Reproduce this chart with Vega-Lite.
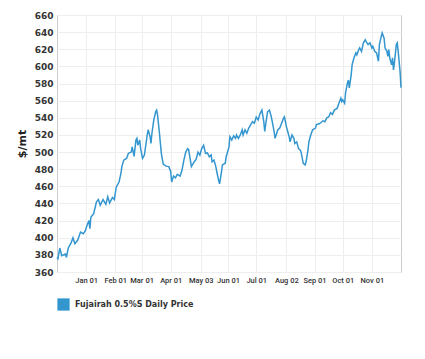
{
  "$schema": "https://vega.github.io/schema/vega-lite/v6.json",
  "autosize": {"type": "none"},
  "padding": {"left": 57, "top": 15, "right": 24, "bottom": 87},
  "width": 344,
  "height": 257,
  "background": "white",
  "config": {
    "view": {"stroke": "#cccccc", "strokeWidth": 1},
    "font": "DejaVu Sans"
  },
  "data": {
    "values": [
      {"date": "2020-12-01", "price": 377, "series": "Fujairah 0.5%S Daily Price"},
      {"date": "2020-12-02", "price": 375.5, "series": "Fujairah 0.5%S Daily Price"},
      {"date": "2020-12-04", "price": 388, "series": "Fujairah 0.5%S Daily Price"},
      {"date": "2020-12-06", "price": 379, "series": "Fujairah 0.5%S Daily Price"},
      {"date": "2020-12-10", "price": 381, "series": "Fujairah 0.5%S Daily Price"},
      {"date": "2020-12-11", "price": 377, "series": "Fujairah 0.5%S Daily Price"},
      {"date": "2020-12-13", "price": 388, "series": "Fujairah 0.5%S Daily Price"},
      {"date": "2020-12-16", "price": 394, "series": "Fujairah 0.5%S Daily Price"},
      {"date": "2020-12-18", "price": 400, "series": "Fujairah 0.5%S Daily Price"},
      {"date": "2020-12-20", "price": 393, "series": "Fujairah 0.5%S Daily Price"},
      {"date": "2020-12-23", "price": 397, "series": "Fujairah 0.5%S Daily Price"},
      {"date": "2020-12-26", "price": 406.6, "series": "Fujairah 0.5%S Daily Price"},
      {"date": "2020-12-29", "price": 404.7, "series": "Fujairah 0.5%S Daily Price"},
      {"date": "2020-12-31", "price": 408, "series": "Fujairah 0.5%S Daily Price"},
      {"date": "2021-01-02", "price": 414.5, "series": "Fujairah 0.5%S Daily Price"},
      {"date": "2021-01-04", "price": 420, "series": "Fujairah 0.5%S Daily Price"},
      {"date": "2021-01-05", "price": 410.6, "series": "Fujairah 0.5%S Daily Price"},
      {"date": "2021-01-06", "price": 424, "series": "Fujairah 0.5%S Daily Price"},
      {"date": "2021-01-09", "price": 428, "series": "Fujairah 0.5%S Daily Price"},
      {"date": "2021-01-12", "price": 442, "series": "Fujairah 0.5%S Daily Price"},
      {"date": "2021-01-14", "price": 444.6, "series": "Fujairah 0.5%S Daily Price"},
      {"date": "2021-01-16", "price": 438, "series": "Fujairah 0.5%S Daily Price"},
      {"date": "2021-01-19", "price": 444.6, "series": "Fujairah 0.5%S Daily Price"},
      {"date": "2021-01-22", "price": 439, "series": "Fujairah 0.5%S Daily Price"},
      {"date": "2021-01-24", "price": 447.7, "series": "Fujairah 0.5%S Daily Price"},
      {"date": "2021-01-26", "price": 440.6, "series": "Fujairah 0.5%S Daily Price"},
      {"date": "2021-01-29", "price": 447, "series": "Fujairah 0.5%S Daily Price"},
      {"date": "2021-01-31", "price": 444.6, "series": "Fujairah 0.5%S Daily Price"},
      {"date": "2021-02-02", "price": 459, "series": "Fujairah 0.5%S Daily Price"},
      {"date": "2021-02-05", "price": 465, "series": "Fujairah 0.5%S Daily Price"},
      {"date": "2021-02-07", "price": 475, "series": "Fujairah 0.5%S Daily Price"},
      {"date": "2021-02-08", "price": 483, "series": "Fujairah 0.5%S Daily Price"},
      {"date": "2021-02-10", "price": 490.6, "series": "Fujairah 0.5%S Daily Price"},
      {"date": "2021-02-13", "price": 492.6, "series": "Fujairah 0.5%S Daily Price"},
      {"date": "2021-02-15", "price": 498.5, "series": "Fujairah 0.5%S Daily Price"},
      {"date": "2021-02-18", "price": 500, "series": "Fujairah 0.5%S Daily Price"},
      {"date": "2021-02-19", "price": 506, "series": "Fujairah 0.5%S Daily Price"},
      {"date": "2021-02-21", "price": 495, "series": "Fujairah 0.5%S Daily Price"},
      {"date": "2021-02-23", "price": 514, "series": "Fujairah 0.5%S Daily Price"},
      {"date": "2021-02-24", "price": 516, "series": "Fujairah 0.5%S Daily Price"},
      {"date": "2021-02-25", "price": 508, "series": "Fujairah 0.5%S Daily Price"},
      {"date": "2021-02-27", "price": 514, "series": "Fujairah 0.5%S Daily Price"},
      {"date": "2021-02-28", "price": 504, "series": "Fujairah 0.5%S Daily Price"},
      {"date": "2021-03-02", "price": 492.6, "series": "Fujairah 0.5%S Daily Price"},
      {"date": "2021-03-04", "price": 496.5, "series": "Fujairah 0.5%S Daily Price"},
      {"date": "2021-03-07", "price": 520, "series": "Fujairah 0.5%S Daily Price"},
      {"date": "2021-03-08", "price": 526, "series": "Fujairah 0.5%S Daily Price"},
      {"date": "2021-03-10", "price": 518, "series": "Fujairah 0.5%S Daily Price"},
      {"date": "2021-03-11", "price": 510, "series": "Fujairah 0.5%S Daily Price"},
      {"date": "2021-03-12", "price": 522, "series": "Fujairah 0.5%S Daily Price"},
      {"date": "2021-03-14", "price": 537.5, "series": "Fujairah 0.5%S Daily Price"},
      {"date": "2021-03-16", "price": 547, "series": "Fujairah 0.5%S Daily Price"},
      {"date": "2021-03-17", "price": 549, "series": "Fujairah 0.5%S Daily Price"},
      {"date": "2021-03-18", "price": 543, "series": "Fujairah 0.5%S Daily Price"},
      {"date": "2021-03-20", "price": 522, "series": "Fujairah 0.5%S Daily Price"},
      {"date": "2021-03-22", "price": 498.5, "series": "Fujairah 0.5%S Daily Price"},
      {"date": "2021-03-24", "price": 486, "series": "Fujairah 0.5%S Daily Price"},
      {"date": "2021-03-27", "price": 483.6, "series": "Fujairah 0.5%S Daily Price"},
      {"date": "2021-03-30", "price": 483, "series": "Fujairah 0.5%S Daily Price"},
      {"date": "2021-04-01", "price": 477, "series": "Fujairah 0.5%S Daily Price"},
      {"date": "2021-04-02", "price": 465, "series": "Fujairah 0.5%S Daily Price"},
      {"date": "2021-04-04", "price": 472, "series": "Fujairah 0.5%S Daily Price"},
      {"date": "2021-04-06", "price": 470, "series": "Fujairah 0.5%S Daily Price"},
      {"date": "2021-04-08", "price": 474, "series": "Fujairah 0.5%S Daily Price"},
      {"date": "2021-04-11", "price": 472, "series": "Fujairah 0.5%S Daily Price"},
      {"date": "2021-04-13", "price": 479, "series": "Fujairah 0.5%S Daily Price"},
      {"date": "2021-04-15", "price": 490.6, "series": "Fujairah 0.5%S Daily Price"},
      {"date": "2021-04-17", "price": 500, "series": "Fujairah 0.5%S Daily Price"},
      {"date": "2021-04-19", "price": 504, "series": "Fujairah 0.5%S Daily Price"},
      {"date": "2021-04-20", "price": 503, "series": "Fujairah 0.5%S Daily Price"},
      {"date": "2021-04-21", "price": 496.5, "series": "Fujairah 0.5%S Daily Price"},
      {"date": "2021-04-23", "price": 483, "series": "Fujairah 0.5%S Daily Price"},
      {"date": "2021-04-26", "price": 488.7, "series": "Fujairah 0.5%S Daily Price"},
      {"date": "2021-04-28", "price": 491.5, "series": "Fujairah 0.5%S Daily Price"},
      {"date": "2021-04-30", "price": 500, "series": "Fujairah 0.5%S Daily Price"},
      {"date": "2021-05-02", "price": 496.5, "series": "Fujairah 0.5%S Daily Price"},
      {"date": "2021-05-04", "price": 504, "series": "Fujairah 0.5%S Daily Price"},
      {"date": "2021-05-06", "price": 508, "series": "Fujairah 0.5%S Daily Price"},
      {"date": "2021-05-08", "price": 498.5, "series": "Fujairah 0.5%S Daily Price"},
      {"date": "2021-05-10", "price": 499, "series": "Fujairah 0.5%S Daily Price"},
      {"date": "2021-05-12", "price": 494.5, "series": "Fujairah 0.5%S Daily Price"},
      {"date": "2021-05-14", "price": 496.5, "series": "Fujairah 0.5%S Daily Price"},
      {"date": "2021-05-15", "price": 488.7, "series": "Fujairah 0.5%S Daily Price"},
      {"date": "2021-05-17", "price": 490.6, "series": "Fujairah 0.5%S Daily Price"},
      {"date": "2021-05-19", "price": 483, "series": "Fujairah 0.5%S Daily Price"},
      {"date": "2021-05-20", "price": 477, "series": "Fujairah 0.5%S Daily Price"},
      {"date": "2021-05-22", "price": 467, "series": "Fujairah 0.5%S Daily Price"},
      {"date": "2021-05-23", "price": 463, "series": "Fujairah 0.5%S Daily Price"},
      {"date": "2021-05-25", "price": 477, "series": "Fujairah 0.5%S Daily Price"},
      {"date": "2021-05-26", "price": 485, "series": "Fujairah 0.5%S Daily Price"},
      {"date": "2021-05-29", "price": 487, "series": "Fujairah 0.5%S Daily Price"},
      {"date": "2021-05-30", "price": 494.5, "series": "Fujairah 0.5%S Daily Price"},
      {"date": "2021-06-02", "price": 506, "series": "Fujairah 0.5%S Daily Price"},
      {"date": "2021-06-03", "price": 518, "series": "Fujairah 0.5%S Daily Price"},
      {"date": "2021-06-05", "price": 514, "series": "Fujairah 0.5%S Daily Price"},
      {"date": "2021-06-07", "price": 519, "series": "Fujairah 0.5%S Daily Price"},
      {"date": "2021-06-09", "price": 516, "series": "Fujairah 0.5%S Daily Price"},
      {"date": "2021-06-10", "price": 520, "series": "Fujairah 0.5%S Daily Price"},
      {"date": "2021-06-12", "price": 516, "series": "Fujairah 0.5%S Daily Price"},
      {"date": "2021-06-14", "price": 520, "series": "Fujairah 0.5%S Daily Price"},
      {"date": "2021-06-16", "price": 526, "series": "Fujairah 0.5%S Daily Price"},
      {"date": "2021-06-17", "price": 520, "series": "Fujairah 0.5%S Daily Price"},
      {"date": "2021-06-19", "price": 526, "series": "Fujairah 0.5%S Daily Price"},
      {"date": "2021-06-21", "price": 522, "series": "Fujairah 0.5%S Daily Price"},
      {"date": "2021-06-23", "price": 528, "series": "Fujairah 0.5%S Daily Price"},
      {"date": "2021-06-27", "price": 535.5, "series": "Fujairah 0.5%S Daily Price"},
      {"date": "2021-06-29", "price": 533.7, "series": "Fujairah 0.5%S Daily Price"},
      {"date": "2021-07-01", "price": 541, "series": "Fujairah 0.5%S Daily Price"},
      {"date": "2021-07-03", "price": 537.5, "series": "Fujairah 0.5%S Daily Price"},
      {"date": "2021-07-05", "price": 545, "series": "Fujairah 0.5%S Daily Price"},
      {"date": "2021-07-07", "price": 549, "series": "Fujairah 0.5%S Daily Price"},
      {"date": "2021-07-09", "price": 535.5, "series": "Fujairah 0.5%S Daily Price"},
      {"date": "2021-07-10", "price": 524, "series": "Fujairah 0.5%S Daily Price"},
      {"date": "2021-07-12", "price": 539.5, "series": "Fujairah 0.5%S Daily Price"},
      {"date": "2021-07-13", "price": 547, "series": "Fujairah 0.5%S Daily Price"},
      {"date": "2021-07-15", "price": 549, "series": "Fujairah 0.5%S Daily Price"},
      {"date": "2021-07-17", "price": 541, "series": "Fujairah 0.5%S Daily Price"},
      {"date": "2021-07-19", "price": 530, "series": "Fujairah 0.5%S Daily Price"},
      {"date": "2021-07-20", "price": 524, "series": "Fujairah 0.5%S Daily Price"},
      {"date": "2021-07-21", "price": 516, "series": "Fujairah 0.5%S Daily Price"},
      {"date": "2021-07-24", "price": 526, "series": "Fujairah 0.5%S Daily Price"},
      {"date": "2021-07-26", "price": 528, "series": "Fujairah 0.5%S Daily Price"},
      {"date": "2021-07-28", "price": 533.7, "series": "Fujairah 0.5%S Daily Price"},
      {"date": "2021-07-30", "price": 539.5, "series": "Fujairah 0.5%S Daily Price"},
      {"date": "2021-07-31", "price": 541, "series": "Fujairah 0.5%S Daily Price"},
      {"date": "2021-08-02", "price": 530, "series": "Fujairah 0.5%S Daily Price"},
      {"date": "2021-08-04", "price": 522, "series": "Fujairah 0.5%S Daily Price"},
      {"date": "2021-08-05", "price": 518, "series": "Fujairah 0.5%S Daily Price"},
      {"date": "2021-08-06", "price": 512, "series": "Fujairah 0.5%S Daily Price"},
      {"date": "2021-08-08", "price": 520, "series": "Fujairah 0.5%S Daily Price"},
      {"date": "2021-08-10", "price": 516, "series": "Fujairah 0.5%S Daily Price"},
      {"date": "2021-08-11", "price": 510, "series": "Fujairah 0.5%S Daily Price"},
      {"date": "2021-08-13", "price": 512, "series": "Fujairah 0.5%S Daily Price"},
      {"date": "2021-08-15", "price": 504, "series": "Fujairah 0.5%S Daily Price"},
      {"date": "2021-08-17", "price": 502, "series": "Fujairah 0.5%S Daily Price"},
      {"date": "2021-08-18", "price": 498.5, "series": "Fujairah 0.5%S Daily Price"},
      {"date": "2021-08-20", "price": 486.8, "series": "Fujairah 0.5%S Daily Price"},
      {"date": "2021-08-22", "price": 485, "series": "Fujairah 0.5%S Daily Price"},
      {"date": "2021-08-23", "price": 488.7, "series": "Fujairah 0.5%S Daily Price"},
      {"date": "2021-08-25", "price": 502, "series": "Fujairah 0.5%S Daily Price"},
      {"date": "2021-08-26", "price": 512, "series": "Fujairah 0.5%S Daily Price"},
      {"date": "2021-08-28", "price": 520, "series": "Fujairah 0.5%S Daily Price"},
      {"date": "2021-08-30", "price": 526, "series": "Fujairah 0.5%S Daily Price"},
      {"date": "2021-09-02", "price": 528, "series": "Fujairah 0.5%S Daily Price"},
      {"date": "2021-09-03", "price": 532, "series": "Fujairah 0.5%S Daily Price"},
      {"date": "2021-09-06", "price": 533, "series": "Fujairah 0.5%S Daily Price"},
      {"date": "2021-09-07", "price": 533.7, "series": "Fujairah 0.5%S Daily Price"},
      {"date": "2021-09-10", "price": 536.5, "series": "Fujairah 0.5%S Daily Price"},
      {"date": "2021-09-12", "price": 535.5, "series": "Fujairah 0.5%S Daily Price"},
      {"date": "2021-09-14", "price": 540, "series": "Fujairah 0.5%S Daily Price"},
      {"date": "2021-09-16", "price": 541, "series": "Fujairah 0.5%S Daily Price"},
      {"date": "2021-09-18", "price": 546, "series": "Fujairah 0.5%S Daily Price"},
      {"date": "2021-09-20", "price": 544, "series": "Fujairah 0.5%S Daily Price"},
      {"date": "2021-09-22", "price": 549, "series": "Fujairah 0.5%S Daily Price"},
      {"date": "2021-09-25", "price": 551, "series": "Fujairah 0.5%S Daily Price"},
      {"date": "2021-09-27", "price": 557, "series": "Fujairah 0.5%S Daily Price"},
      {"date": "2021-09-29", "price": 563, "series": "Fujairah 0.5%S Daily Price"},
      {"date": "2021-09-30", "price": 559, "series": "Fujairah 0.5%S Daily Price"},
      {"date": "2021-10-01", "price": 561, "series": "Fujairah 0.5%S Daily Price"},
      {"date": "2021-10-03", "price": 557, "series": "Fujairah 0.5%S Daily Price"},
      {"date": "2021-10-04", "price": 569, "series": "Fujairah 0.5%S Daily Price"},
      {"date": "2021-10-06", "price": 580.5, "series": "Fujairah 0.5%S Daily Price"},
      {"date": "2021-10-07", "price": 584, "series": "Fujairah 0.5%S Daily Price"},
      {"date": "2021-10-08", "price": 575, "series": "Fujairah 0.5%S Daily Price"},
      {"date": "2021-10-10", "price": 590, "series": "Fujairah 0.5%S Daily Price"},
      {"date": "2021-10-11", "price": 602, "series": "Fujairah 0.5%S Daily Price"},
      {"date": "2021-10-13", "price": 610, "series": "Fujairah 0.5%S Daily Price"},
      {"date": "2021-10-15", "price": 615.7, "series": "Fujairah 0.5%S Daily Price"},
      {"date": "2021-10-16", "price": 613.5, "series": "Fujairah 0.5%S Daily Price"},
      {"date": "2021-10-18", "price": 619.5, "series": "Fujairah 0.5%S Daily Price"},
      {"date": "2021-10-19", "price": 621.6, "series": "Fujairah 0.5%S Daily Price"},
      {"date": "2021-10-21", "price": 617.6, "series": "Fujairah 0.5%S Daily Price"},
      {"date": "2021-10-23", "price": 627.5, "series": "Fujairah 0.5%S Daily Price"},
      {"date": "2021-10-25", "price": 631, "series": "Fujairah 0.5%S Daily Price"},
      {"date": "2021-10-26", "price": 629, "series": "Fujairah 0.5%S Daily Price"},
      {"date": "2021-10-28", "price": 625.5, "series": "Fujairah 0.5%S Daily Price"},
      {"date": "2021-10-30", "price": 627.5, "series": "Fujairah 0.5%S Daily Price"},
      {"date": "2021-11-01", "price": 621.6, "series": "Fujairah 0.5%S Daily Price"},
      {"date": "2021-11-02", "price": 623.5, "series": "Fujairah 0.5%S Daily Price"},
      {"date": "2021-11-04", "price": 617.6, "series": "Fujairah 0.5%S Daily Price"},
      {"date": "2021-11-06", "price": 615.7, "series": "Fujairah 0.5%S Daily Price"},
      {"date": "2021-11-08", "price": 606, "series": "Fujairah 0.5%S Daily Price"},
      {"date": "2021-11-09", "price": 625.5, "series": "Fujairah 0.5%S Daily Price"},
      {"date": "2021-11-11", "price": 635, "series": "Fujairah 0.5%S Daily Price"},
      {"date": "2021-11-12", "price": 639, "series": "Fujairah 0.5%S Daily Price"},
      {"date": "2021-11-14", "price": 633, "series": "Fujairah 0.5%S Daily Price"},
      {"date": "2021-11-15", "price": 621.6, "series": "Fujairah 0.5%S Daily Price"},
      {"date": "2021-11-17", "price": 617.6, "series": "Fujairah 0.5%S Daily Price"},
      {"date": "2021-11-18", "price": 611.7, "series": "Fujairah 0.5%S Daily Price"},
      {"date": "2021-11-19", "price": 619.5, "series": "Fujairah 0.5%S Daily Price"},
      {"date": "2021-11-20", "price": 610, "series": "Fujairah 0.5%S Daily Price"},
      {"date": "2021-11-22", "price": 602, "series": "Fujairah 0.5%S Daily Price"},
      {"date": "2021-11-23", "price": 610, "series": "Fujairah 0.5%S Daily Price"},
      {"date": "2021-11-24", "price": 596, "series": "Fujairah 0.5%S Daily Price"},
      {"date": "2021-11-25", "price": 604, "series": "Fujairah 0.5%S Daily Price"},
      {"date": "2021-11-27", "price": 625.5, "series": "Fujairah 0.5%S Daily Price"},
      {"date": "2021-11-28", "price": 627.5, "series": "Fujairah 0.5%S Daily Price"},
      {"date": "2021-11-29", "price": 617.6, "series": "Fujairah 0.5%S Daily Price"},
      {"date": "2021-12-01", "price": 594, "series": "Fujairah 0.5%S Daily Price"},
      {"date": "2021-12-02", "price": 575, "series": "Fujairah 0.5%S Daily Price"}
    ]
  },
  "mark": {"type": "line", "strokeWidth": 1.5, "interpolate": "linear"},
  "encoding": {
    "x": {
      "field": "date",
      "type": "temporal",
      "scale": {"type": "utc"},
      "axis": {
        "title": null,
        "format": "%b %d",
        "values": [
          {"year": 2021, "month": 1, "date": 1, "utc": true},
          {"year": 2021, "month": 2, "date": 1, "utc": true},
          {"year": 2021, "month": 3, "date": 1, "utc": true},
          {"year": 2021, "month": 4, "date": 1, "utc": true},
          {"year": 2021, "month": 5, "date": 3, "utc": true},
          {"year": 2021, "month": 6, "date": 1, "utc": true},
          {"year": 2021, "month": 7, "date": 1, "utc": true},
          {"year": 2021, "month": 8, "date": 2, "utc": true},
          {"year": 2021, "month": 9, "date": 1, "utc": true},
          {"year": 2021, "month": 10, "date": 1, "utc": true},
          {"year": 2021, "month": 11, "date": 1, "utc": true}
        ],
        "domain": false,
        "ticks": false,
        "grid": true,
        "gridColor": "#eeeeee",
        "gridWidth": 1,
        "labelFont": "Roboto",
        "labelFontSize": 7.5,
        "labelFontWeight": 500,
        "labelColor": "#333333",
        "labelPadding": 4,
        "labelFlush": false,
        "labelOverlap": false
      }
    },
    "y": {
      "field": "price",
      "type": "quantitative",
      "scale": {"domain": [360, 660], "nice": false, "zero": false},
      "axis": {
        "title": "$/mt",
        "values": [360, 380, 400, 420, 440, 460, 480, 500, 520, 540, 560, 580, 600, 620, 640, 660],
        "domain": false,
        "ticks": false,
        "grid": true,
        "gridColor": "#eeeeee",
        "gridWidth": 1,
        "labelFont": "DejaVu Sans",
        "labelFontSize": 9,
        "labelFontWeight": "bold",
        "labelColor": "#333333",
        "labelPadding": 4,
        "titleFont": "DejaVu Sans",
        "titleFontSize": 11,
        "titleFontWeight": "bold",
        "titleColor": "#222222",
        "titlePadding": 7
      }
    },
    "color": {
      "field": "series",
      "type": "nominal",
      "scale": {"range": ["#3396cf"]},
      "legend": {
        "title": null,
        "orient": "bottom",
        "direction": "horizontal",
        "offset": 14,
        "symbolType": "square",
        "symbolSize": 150,
        "symbolFillColor": "#3396cf",
        "symbolStrokeColor": "#3396cf",
        "symbolStrokeWidth": 0,
        "labelFont": "DejaVu Sans",
        "labelFontSize": 8,
        "labelFontWeight": "bold",
        "labelColor": "#333333",
        "labelOffset": 5,
        "encode": {
          "symbols": {"update": {"fill": {"value": "#3396cf"}, "stroke": {"value": "#3396cf"}, "opacity": {"value": 1}}}
        }
      }
    }
  }
}
